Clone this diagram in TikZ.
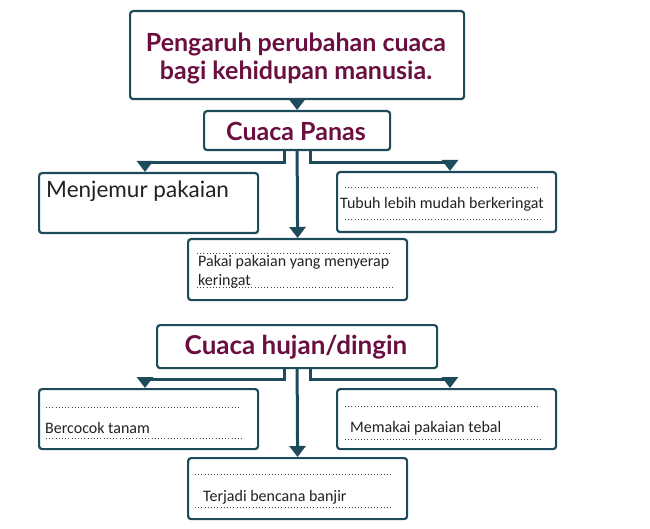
\documentclass[tikz,border=0pt]{standalone}
\usepackage{fontspec}
\setmainfont{Carlito}
\newfontfamily\headfont{Lato}
\usetikzlibrary{arrows.meta}
\definecolor{frame}{HTML}{1D4B5B}
\definecolor{maroon}{HTML}{6A0F40}
\definecolor{ink}{HTML}{222222}
\tikzset{
  box/.style={draw=frame, line width=2.2pt, rounded corners=3pt, fill=white, inner sep=0pt, anchor=north west},
  conn/.style={draw=frame, line width=3pt, -{Triangle[width=16pt,length=11pt]}},
  dots/.style={draw=ink!85, line width=1pt, dash pattern=on 1pt off 2.2pt},
  head/.style={font=\headfont\bfseries, text=maroon, align=center},
  small/.style={font=\fontsize{16}{19}\selectfont, text=ink, anchor=west, inner sep=0pt}
}
\begin{document}
\begin{tikzpicture}[x=1pt,y=-1pt]
\useasboundingbox (0,0) rectangle (650,529);
% boxes
\node[box, minimum width=334pt, minimum height=88pt] (title) at (129,10) {};
\node[box, minimum width=186pt, minimum height=39pt] (panas) at (203,110) {};
\node[box, minimum width=219pt, minimum height=60pt] (jemur) at (38,172) {};
\node[box, minimum width=219pt, minimum height=60pt] (tubuh) at (336,171) {};
\node[box, minimum width=219pt, minimum height=61pt] (pakai) at (187,238) {};
\node[box, minimum width=280pt, minimum height=43pt] (hujan) at (156,324) {};
\node[box, minimum width=219pt, minimum height=60pt] (tanam) at (38,388) {};
\node[box, minimum width=219pt, minimum height=60pt] (tebal) at (336,388) {};
\node[box, minimum width=219pt, minimum height=61pt] (banjir) at (187,457) {};
% heading texts
\node[head, font=\headfont\bfseries\fontsize{25}{28}\selectfont] (titletext) at (296,58) {Pengaruh perubahan cuaca\\bagi kehidupan manusia.};
\node[head, font=\headfont\bfseries\fontsize{25}{28}\selectfont] (panastext) at (296,131) {Cuaca Panas};
\node[head, font=\headfont\bfseries\fontsize{26}{28}\selectfont] (hujantext) at (296,347) {Cuaca hujan/dingin};
% connectors
\draw[conn] (title.south) -- (panas.north);
\draw[conn] ([xshift=-13pt]panas.south) -- ++(0,11) -| ([xshift=107pt]jemur.north west);
\draw[conn] ([xshift=13pt]panas.south) -- ++(0,11) -| ([xshift=114pt]tubuh.north west);
\draw[conn] (panas.south) -- (pakai.north);
\draw[conn] ([xshift=-13pt]hujan.south) -- ++(0,10) -| ([xshift=107pt]tanam.north west);
\draw[conn] ([xshift=13pt]hujan.south) -- ++(0,10) -| ([xshift=114pt]tebal.north west);
\draw[conn] (hujan.south) -- (banjir.north);
% Menjemur
\node[anchor=west, inner sep=0pt, font=\headfont\fontsize{22.5}{26}\selectfont, text=ink] (jemurtext) at (46,191) {Menjemur pakaian};
% Tubuh
\coordinate (t1a) at (345,188); \coordinate (t1b) at (540,188);
\coordinate (t2a) at (345,220); \coordinate (t2b) at (542,220);
\draw[dots] (t1a) -- (t1b); \draw[dots] (t2a) -- (t2b);
\node[small] (tubuhtext) at (340,204) {Tubuh lebih mudah berkeringat};
% Pakai
\coordinate (p1a) at (197,254); \coordinate (p1b) at (390,254);
\coordinate (p2a) at (197,287); \coordinate (p2b) at (393,287);
\draw[dots] (p1a) -- (p1b); \draw[dots] (p2a) -- (p2b);
\node[small, align=left] (pakaitext) at (198,272) {Pakai pakaian yang menyerap\\keringat};
% Bercocok
\coordinate (b1a) at (46,407); \coordinate (b1b) at (241,407);
\coordinate (b2a) at (46,438); \coordinate (b2b) at (243,438);
\draw[dots] (b1a) -- (b1b); \draw[dots] (b2a) -- (b2b);
\node[small] (tanamtext) at (45,428) {Bercocok tanam};
% Memakai
\coordinate (m1a) at (345,406); \coordinate (m1b) at (540,406);
\coordinate (m2a) at (345,439); \coordinate (m2b) at (541,439);
\draw[dots] (m1a) -- (m1b); \draw[dots] (m2a) -- (m2b);
\node[small] (tebaltext) at (350,428) {Memakai pakaian tebal};
% Terjadi
\coordinate (j1a) at (195,474); \coordinate (j1b) at (391,474);
\coordinate (j2a) at (195,507); \coordinate (j2b) at (393,507);
\draw[dots] (j1a) -- (j1b); \draw[dots] (j2a) -- (j2b);
\node[small] (banjirtext) at (203,497) {Terjadi bencana banjir};
\end{tikzpicture}
\end{document}
